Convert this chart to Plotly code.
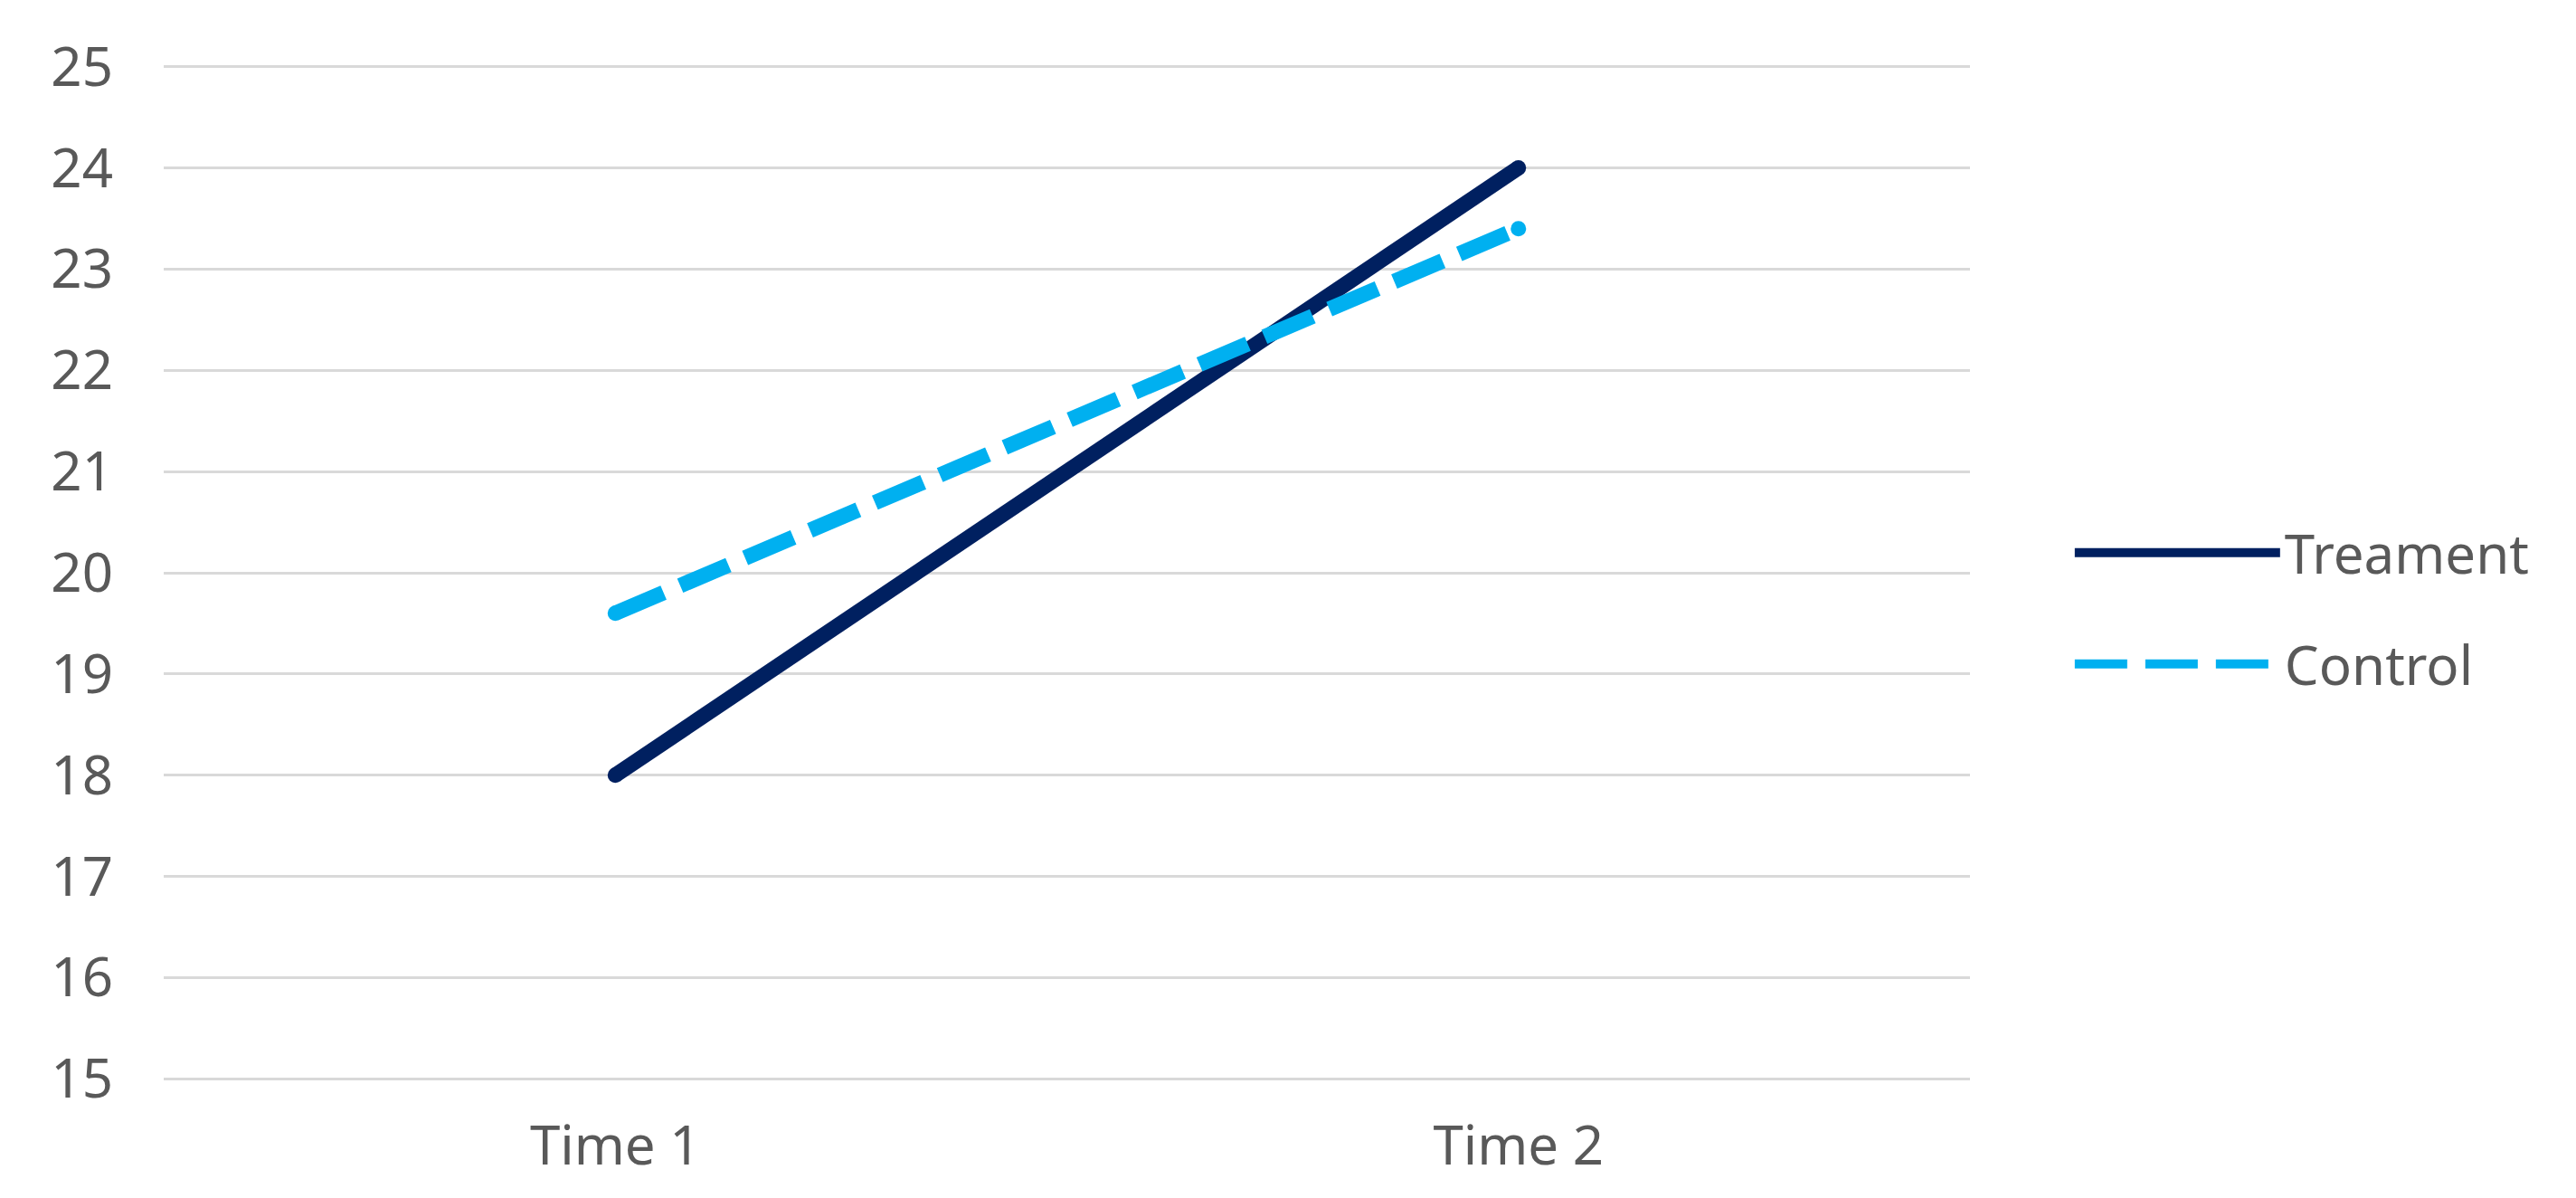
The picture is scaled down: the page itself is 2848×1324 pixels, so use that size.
import plotly.graph_objects as go

categories = ["Time 1", "Time 2"]
treatment = [18.0, 24.0]
control = [19.6, 23.4]
y_ticks = list(range(15, 26))

LW = 17
fig = go.Figure()
fig.add_trace(go.Scatter(x=categories, y=treatment, name="Treament", mode="lines",
                         legendgroup="a",
                         line=dict(color="#002060", width=LW)))
fig.add_trace(go.Scatter(x=categories, y=control, name="Control", mode="lines",
                         legendgroup="b",
                         line=dict(color="#00B0F0", width=LW, dash="58px,20px")))
# round end caps
fig.add_trace(go.Scatter(x=categories, y=treatment, mode="markers", showlegend=False,
                         marker=dict(color="#002060", size=LW, line=dict(width=0))))
fig.add_trace(go.Scatter(x=categories, y=control, mode="markers", showlegend=False,
                         marker=dict(color="#00B0F0", size=LW, line=dict(width=0))))

font_family = "Noto Sans, Open Sans, sans-serif"
fig.update_layout(
    width=2848, height=1324,
    paper_bgcolor="white", plot_bgcolor="white",
    margin=dict(l=173, r=678, t=64, b=138),
    font=dict(family=font_family, size=60, color="#595959"),
    showlegend=True,
    legend=dict(x=1.0555, y=0.465, xanchor="left", yanchor="middle",
                itemwidth=227, font=dict(size=60, color="#595959"),
                traceorder="grouped", tracegroupgap=42,
                bgcolor="rgba(0,0,0,0)"),
    xaxis=dict(range=[-0.5, 1.5], showgrid=False, zeroline=False, showline=False,
               ticks="", ticklabelstandoff=32, tickfont=dict(size=60, color="#595959")),
    yaxis=dict(range=[14.985, 25.015], tickvals=y_ticks, showgrid=True, gridcolor="#D9D9D9",
               gridwidth=3, zeroline=False, showline=False, ticks="",
               ticklabelstandoff=55, tickfont=dict(size=60, color="#595959")),
    hovermode=False,
)
fig.write_html("out.html")
